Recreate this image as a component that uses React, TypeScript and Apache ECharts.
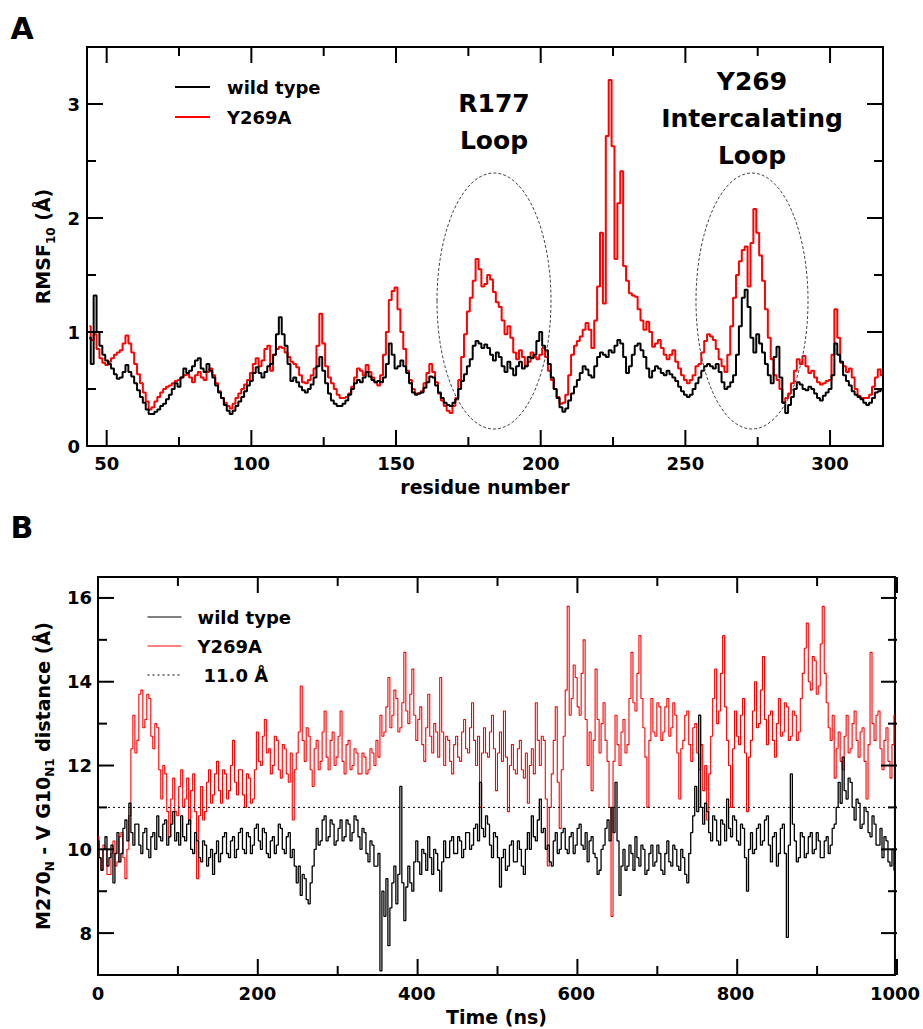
import React, { useEffect, useRef } from "react";
import * as echarts from "echarts";

// ---------- Panel A: RMSF per residue ----------
const residueStart = 44;
const rmsfWildType = [
  0.95, 0.72, 1.32, 1.0, 0.88, 0.8, 0.75, 0.72, 0.68, 0.63,
  0.59, 0.6, 0.65, 0.71, 0.65, 0.61, 0.55, 0.49, 0.43, 0.38,
  0.32, 0.28, 0.28, 0.3, 0.32, 0.35, 0.37, 0.41, 0.45, 0.5,
  0.55, 0.52, 0.6, 0.68, 0.64, 0.66, 0.7, 0.75, 0.77, 0.68,
  0.65, 0.72, 0.66, 0.6, 0.53, 0.47, 0.42, 0.36, 0.31, 0.28,
  0.31, 0.35, 0.39, 0.43, 0.48, 0.53, 0.57, 0.64, 0.69, 0.64,
  0.6, 0.65, 0.7, 0.72, 0.8, 0.98, 1.13, 0.98, 0.88, 0.72,
  0.57, 0.6, 0.56, 0.52, 0.49, 0.47, 0.5, 0.54, 0.6, 0.7,
  0.78, 0.66, 0.55, 0.46, 0.4, 0.37, 0.35, 0.35, 0.37, 0.4,
  0.45, 0.5, 0.55, 0.58, 0.56, 0.6, 0.65, 0.61, 0.58, 0.56,
  0.57, 0.56, 0.6, 0.72, 0.9, 0.8, 0.68, 0.7, 0.75, 0.7,
  0.64, 0.55, 0.47, 0.45, 0.46, 0.47, 0.51, 0.56, 0.61, 0.6,
  0.53, 0.47, 0.42, 0.38, 0.36, 0.35, 0.38, 0.41, 0.5, 0.57,
  0.63, 0.7, 0.76, 0.88, 0.92, 0.9, 0.86, 0.89, 0.86, 0.8,
  0.75, 0.82, 0.78, 0.7, 0.65, 0.74, 0.68, 0.62, 0.7, 0.74,
  0.68, 0.7, 0.78, 0.77, 0.8, 0.92, 1.0, 0.88, 0.84, 0.72,
  0.6, 0.5, 0.42, 0.34, 0.3, 0.33, 0.4, 0.46, 0.52, 0.58,
  0.64, 0.7, 0.67, 0.62, 0.6, 0.7, 0.78, 0.82, 0.8, 0.78,
  0.84, 0.82, 0.88, 0.93, 0.9, 0.78, 0.64, 0.7, 0.8, 0.88,
  0.9, 0.84, 0.78, 0.68, 0.6, 0.66, 0.7, 0.68, 0.64, 0.62,
  0.66, 0.63, 0.6, 0.57, 0.52, 0.48, 0.45, 0.43, 0.45, 0.5,
  0.55, 0.6, 0.66, 0.7, 0.72, 0.7, 0.68, 0.72, 0.65, 0.56,
  0.5, 0.52, 0.56, 0.62, 0.8, 1.05, 1.3, 1.37, 1.22, 0.95,
  0.82, 0.98, 0.9, 0.82, 0.72, 0.62, 0.55, 0.78, 0.87, 0.6,
  0.38, 0.29, 0.36, 0.43, 0.5, 0.56, 0.54, 0.5, 0.49, 0.52,
  0.5, 0.46, 0.42, 0.4, 0.44, 0.47, 0.5, 0.62, 0.9, 0.8,
  0.74, 0.62, 0.57, 0.53, 0.48, 0.45, 0.43, 0.41, 0.38, 0.36,
  0.38, 0.42, 0.47, 0.48, 0.5,
];
const rmsfY269A = [
  1.05, 0.93, 0.98, 0.85, 0.77, 0.73, 0.71, 0.74, 0.77, 0.8,
  0.82, 0.84, 0.9, 0.97, 0.9, 0.82, 0.72, 0.63, 0.55, 0.47,
  0.39, 0.32, 0.34, 0.39, 0.43, 0.47, 0.5, 0.52, 0.53, 0.55,
  0.57, 0.58, 0.6, 0.62, 0.63, 0.6, 0.56, 0.62, 0.65, 0.6,
  0.58, 0.65, 0.68, 0.62, 0.55, 0.48, 0.42, 0.38, 0.35, 0.33,
  0.37, 0.42, 0.46, 0.5, 0.54, 0.58, 0.64, 0.72, 0.77, 0.7,
  0.75, 0.85, 0.88, 0.66, 0.8, 0.85, 0.87, 0.86, 0.82, 0.78,
  0.74, 0.72, 0.69, 0.62, 0.56, 0.55, 0.58, 0.62, 0.68, 0.88,
  1.16, 0.9, 0.7, 0.6, 0.55, 0.5, 0.45, 0.42, 0.42, 0.43,
  0.46, 0.52, 0.6, 0.68, 0.66, 0.62, 0.71, 0.65, 0.6, 0.56,
  0.53, 0.62, 0.8, 1.0, 1.28, 1.36, 1.39, 1.2, 1.0, 0.85,
  0.66, 0.58, 0.5, 0.46, 0.46, 0.48, 0.55, 0.64, 0.72, 0.65,
  0.56, 0.46, 0.4, 0.35, 0.31, 0.29, 0.35, 0.42, 0.58, 0.78,
  0.98, 1.18, 1.3, 1.45, 1.64, 1.55, 1.4, 1.42, 1.5, 1.46,
  1.35, 1.26, 1.22, 1.1, 0.98, 1.05, 0.95, 0.82, 0.76, 0.84,
  0.78, 0.7, 0.74, 0.82, 0.78, 0.76, 0.8, 0.86, 0.78, 0.66,
  0.58, 0.5, 0.43, 0.37, 0.38, 0.45, 0.62, 0.8, 0.88, 0.92,
  0.96, 1.02, 1.08, 1.02, 0.86, 1.1, 1.4, 1.87, 1.25, 2.72,
  3.21, 2.63, 1.64, 2.13, 2.41, 1.58, 1.45, 1.34, 1.32, 1.31,
  1.2, 1.1, 1.02, 1.09, 1.0, 0.87, 0.9, 0.93, 0.86, 0.8,
  0.76, 0.8, 0.84, 0.74, 0.68, 0.62, 0.58, 0.55, 0.58, 0.62,
  0.7, 0.72, 0.82, 0.92, 0.98, 0.96, 0.93, 0.85, 0.76, 0.7,
  0.65, 0.8, 1.05, 1.3, 1.5, 1.62, 1.72, 1.75, 1.4, 1.78,
  2.08, 1.87, 1.67, 1.45, 1.2, 0.95, 0.76, 0.62, 0.58, 0.5,
  0.38, 0.42, 0.46, 0.55, 0.66, 0.76, 0.72, 0.79, 0.7, 0.64,
  0.66, 0.6, 0.56, 0.54, 0.55, 0.57, 0.58, 0.8, 1.2, 0.95,
  0.73, 0.7, 0.65, 0.68, 0.6, 0.5, 0.44, 0.42, 0.42, 0.42,
  0.45, 0.52, 0.6, 0.67, 0.62,
];
const aXRange = [43.2, 318.3];
const aYRange = [0, 3.5];
const aXMajor = [50, 100, 150, 200, 250, 300];
const aXMinor = [75, 125, 175, 225, 275];
const aYMajor = [0, 1, 2, 3];
const aYMinor = [0.5, 1.5, 2.5];

// ---------- Panel B: distance vs time (one value every 2.5 ns) ----------
const timeStep = 2.5;
const distWildType = [
  10.2, 9.8, 9.5, 10.0, 10.3, 9.6, 9.8, 10.1, 9.2, 9.9, 10.4, 9.7, 9.9, 10.5, 10.7, 10.2, 11.1, 10.4, 10.1, 10.6,
  10.6, 10.1, 9.9, 10.4, 10.5, 10.0, 9.8, 10.3, 10.4, 10.0, 10.8, 10.3, 10.2, 10.6, 10.7, 10.1, 10.3, 10.6, 10.9, 10.2,
  10.4, 10.1, 10.8, 10.3, 10.2, 10.6, 10.7, 10.0, 9.9, 10.4, 10.2, 9.8, 9.7, 10.2, 10.1, 9.6, 9.8, 10.0, 9.4, 9.9,
  10.2, 9.7, 9.9, 10.3, 10.4, 9.9, 9.8, 10.2, 10.3, 9.8, 10.0, 10.4, 10.5, 10.0, 9.9, 10.4, 10.3, 9.9, 10.1, 10.5,
  10.6, 10.2, 10.0, 10.5, 10.4, 9.9, 9.8, 10.2, 10.3, 9.9, 10.1, 10.6, 10.5, 10.0, 9.9, 10.3, 10.4, 9.8, 10.0, 9.6,
  9.2, 9.6, 8.9, 9.4, 9.3, 8.8, 8.7, 9.2, 9.6, 10.0, 10.5, 10.1, 10.2, 10.7, 10.8, 10.2, 10.3, 10.7, 10.6, 10.1,
  10.2, 10.5, 10.7, 10.2, 10.3, 10.7, 10.6, 10.2, 10.4, 10.8, 10.7, 10.3, 10.0, 10.5, 10.4, 9.9, 9.7, 10.2, 10.1, 9.6,
  9.6, 9.9, 7.1, 9.0, 8.4, 9.3, 7.7, 8.6, 9.2, 9.6, 8.7, 9.4, 11.5, 9.2, 8.3, 9.1, 9.6, 9.2, 9.0, 9.7,
  10.2, 9.7, 9.4, 10.0, 9.9, 9.5, 10.3, 9.8, 9.4, 10.0, 9.9, 9.5, 9.0, 9.7, 10.2, 9.8, 9.8, 10.2, 10.3, 9.9,
  9.9, 10.3, 10.2, 9.8, 10.0, 10.4, 10.4, 10.0, 10.1, 10.5, 10.6, 10.2, 11.6, 10.5, 10.3, 10.8, 10.6, 10.1, 9.8, 10.4,
  10.3, 9.8, 9.1, 9.8, 10.0, 9.5, 9.6, 10.1, 10.2, 9.7, 9.7, 10.2, 10.0, 9.6, 9.4, 10.0, 10.4, 10.0, 10.8, 10.3,
  10.2, 10.7, 11.2, 10.4, 10.5, 10.0, 10.1, 9.7, 9.6, 10.2, 10.4, 9.9, 10.0, 10.4, 10.5, 10.0, 9.9, 10.3, 10.4, 9.9,
  10.1, 10.5, 10.6, 10.1, 10.0, 10.4, 9.7, 10.2, 10.3, 9.9, 9.8, 9.4, 9.5, 10.0, 10.1, 10.5, 10.7, 10.2, 11.0, 10.4,
  11.6, 10.2, 8.9, 9.6, 10.0, 9.5, 9.6, 10.1, 9.9, 9.5, 10.3, 9.8, 9.6, 10.1, 10.0, 9.4, 9.5, 9.9, 10.1, 9.6,
  9.7, 10.1, 9.9, 9.5, 9.4, 9.9, 10.2, 9.7, 9.6, 10.1, 10.0, 9.6, 9.5, 10.0, 9.8, 9.4, 9.2, 9.9, 10.4, 10.8,
  11.5, 10.9, 13.2, 11.0, 10.6, 11.1, 10.9, 10.4, 10.2, 10.8, 10.7, 10.2, 10.1, 10.7, 10.6, 10.2, 11.2, 10.5, 10.3, 10.8,
  10.7, 10.2, 10.1, 10.6, 10.5, 9.8, 9.0, 10.0, 10.4, 9.9, 10.0, 10.5, 10.6, 10.1, 10.2, 10.7, 10.8, 10.1, 9.7, 10.3,
  10.4, 9.6, 9.9, 10.5, 10.6, 9.9, 7.9, 10.1, 11.8, 10.6, 10.2, 9.7, 9.8, 10.4, 10.3, 9.8, 9.9, 10.3, 10.4, 9.9,
  10.0, 10.4, 10.2, 9.8, 9.8, 10.2, 10.3, 9.9, 10.1, 10.5, 10.6, 11.0, 11.6, 11.1, 12.2, 11.4, 11.2, 11.7, 11.6, 11.0,
  10.7, 11.2, 11.1, 10.5, 10.6, 11.0, 10.9, 10.4, 10.3, 10.8, 10.6, 10.1, 10.1, 10.5, 9.8, 10.3, 10.2, 9.7, 9.6, 10.0,
  9.5,
];
const distY269A = [
  10.3, 9.8, 9.5, 10.1, 10.0, 9.4, 9.4, 9.9, 10.2, 9.6, 9.7, 10.3, 10.4, 9.8, 9.3, 10.0, 10.8, 12.4, 13.2, 12.3,
  12.6, 13.7, 13.8, 12.9, 13.1, 13.7, 13.6, 12.7, 12.4, 13.0, 12.9, 11.9, 11.2, 12.0, 11.8, 10.9, 10.3, 11.2, 11.7, 10.9,
  10.8, 11.5, 11.9, 11.0, 11.2, 11.7, 10.6, 11.4, 11.8, 10.9, 9.3, 10.8, 11.5, 10.7, 10.9, 11.6, 11.9, 11.1, 11.3, 11.8,
  12.1, 11.4, 11.1, 11.9, 11.8, 11.2, 11.4, 12.0, 12.6, 11.6, 11.3, 11.9, 11.9, 11.3, 11.0, 11.8, 11.7, 11.1, 11.2, 11.9,
  12.8, 12.1, 12.0, 12.7, 13.1, 12.3, 12.4, 11.8, 12.0, 12.7, 12.6, 11.9, 11.7, 12.5, 12.4, 11.8, 11.6, 12.3, 10.7, 11.9,
  12.3, 12.8, 13.9, 12.6, 12.1, 12.9, 12.7, 11.9, 11.5, 12.4, 12.6, 11.9, 12.1, 12.8, 13.3, 12.2, 11.9, 12.6, 12.8, 12.0,
  12.2, 12.7, 13.3, 12.1, 11.8, 12.5, 12.6, 11.9, 12.0, 12.4, 12.3, 11.8, 11.8, 12.3, 12.2, 11.8, 11.9, 12.4, 12.3, 12.0,
  12.6, 12.2, 13.2, 12.7, 12.8, 13.4, 14.1, 12.9, 13.2, 13.8, 13.6, 12.8, 12.9, 13.5, 14.7, 13.3, 13.0, 13.7, 14.3, 13.2,
  12.6, 13.1, 13.4, 12.5, 12.1, 12.9, 13.7, 12.7, 12.3, 13.0, 12.8, 12.2, 14.1, 12.8, 12.0, 12.7, 12.6, 12.1, 11.8, 12.5,
  12.7, 12.2, 12.1, 12.8, 13.1, 12.4, 12.3, 12.9, 13.5, 12.6, 12.0, 12.7, 11.0, 12.3, 12.9, 12.3, 12.2, 12.8, 13.2, 12.4,
  11.4, 12.3, 12.8, 12.1, 13.3, 12.2, 10.9, 12.0, 12.5, 11.9, 11.8, 12.4, 12.6, 11.9, 11.7, 12.3, 11.1, 12.0, 12.4, 11.8,
  13.5, 12.6, 12.0, 12.7, 12.6, 11.2, 9.6, 11.0, 11.8, 12.6, 13.4, 11.6, 10.5, 11.9, 12.7, 13.8, 15.8, 13.2, 13.6, 14.4,
  14.1, 13.4, 13.2, 14.2, 15.0, 13.1, 12.0, 12.8, 11.4, 12.6, 14.3, 13.1, 12.3, 13.0, 13.5, 12.6, 12.1, 11.0, 8.4, 12.1,
  13.2, 12.5, 12.0, 12.8, 13.1, 12.3, 12.5, 13.6, 14.7, 13.5, 13.3, 14.2, 15.1, 13.6, 12.9, 12.2, 11.0, 12.6, 13.6, 12.8,
  12.7, 13.5, 13.4, 12.6, 12.8, 13.4, 13.6, 12.7, 12.9, 13.5, 13.2, 12.3, 11.2, 12.4, 12.6, 13.2, 13.3, 12.5, 12.1, 12.9,
  13.0, 12.3, 11.9, 12.5, 11.4, 12.0, 10.7, 11.8, 12.7, 13.6, 14.3, 13.0, 13.3, 14.2, 15.1, 13.4, 12.6, 12.0, 11.0, 12.4,
  13.3, 12.7, 12.5, 13.2, 13.6, 12.3, 10.9, 12.2, 12.6, 13.3, 14.0, 12.9, 13.0, 13.8, 14.6, 13.1, 12.5, 13.2, 13.3, 12.6,
  12.2, 13.0, 13.6, 12.7, 12.8, 13.5, 13.4, 12.6, 12.7, 13.3, 13.2, 12.6, 12.8, 13.6, 14.2, 14.8, 15.4, 14.0, 13.8, 14.6,
  14.5, 13.7, 13.9, 14.9, 15.8, 14.2, 13.5, 12.9, 12.6, 13.2, 11.7, 12.4, 12.8, 12.1, 11.9, 12.7, 13.2, 12.3, 12.4, 13.0,
  13.3, 12.6, 12.2, 12.8, 12.9, 12.1, 11.2, 12.5, 14.7, 13.0, 12.6, 13.2, 13.3, 12.4, 11.9, 12.6, 12.9, 12.1, 11.7, 12.5,
  13.2,
];
const thresholdValue = 11.0;
const bXRange = [0, 1000];
const bYRange = [7, 16.5];
const bXMajor = [0, 200, 400, 600, 800, 1000];
const bXMinor = [100, 300, 500, 700, 900];
const bYMajor = [8, 10, 12, 14, 16];
const bYMinor = [9, 11, 13, 15];

const FONT = "DejaVu Sans";
const MAJOR_LEN = 16;
const MINOR_LEN = 9;
const TICK_W = 2;
const GRIDS = [
  { left: 87, top: 47, width: 796, height: 399 },
  { left: 98, top: 577, width: 799, height: 398 },
];
const RANGES = [
  { x: aXRange, y: aYRange },
  { x: bXRange, y: bYRange },
];

const inList = (list: number[]) => (v: number) =>
  list.some((m) => Math.abs(m - v) < 1e-6) ? String(v) : "";

export default function App() {
  const ref = useRef<HTMLDivElement>(null);
  const tickRef = useRef<HTMLDivElement>(null);

  useEffect(() => {
    if (!ref.current || !tickRef.current) return;
    const chart = echarts.init(ref.current, null, { renderer: "svg" });

    const textBase = {
      color: "#000",
      fontFamily: FONT,
      fontWeight: "bold",
      fontSize: 18,
    };
    const titleBase = { ...textBase, fontSize: 19 };
    const richName = {
      ...titleBase,
      rich: {
        a: { ...titleBase, lineHeight: 27 },
        s: { color: "#000", fontFamily: FONT, fontWeight: "bold", fontSize: 12, verticalAlign: "bottom" },
      },
    };
    const label = (values: number[], margin: number) => ({
      show: true,
      ...textBase,
      margin,
      formatter: inList(values),
    });
    const axisBase = {
      type: "value",
      splitLine: { show: false },
      axisLine: { show: false },
      axisTick: { show: false },
    };

    const option: any = {
      animation: false,
      grid: GRIDS.map((g) => ({ ...g, show: true, borderColor: "#000", borderWidth: 2 })),
      xAxis: [
        {
          ...axisBase,
          gridIndex: 0,
          min: aXRange[0],
          max: aXRange[1],
          axisLabel: label(aXMajor, 8),
          name: "residue number",
          nameLocation: "middle",
          nameGap: 31,
          nameTextStyle: titleBase,
        },
        {
          ...axisBase,
          gridIndex: 1,
          min: bXRange[0],
          max: bXRange[1],
          axisLabel: label(bXMajor, 9),
          name: "Time (ns)",
          nameLocation: "middle",
          nameGap: 32,
          nameTextStyle: titleBase,
        },
      ],
      yAxis: [
        {
          ...axisBase,
          gridIndex: 0,
          min: aYRange[0],
          max: aYRange[1],
          axisLabel: label(aYMajor, 7),
          name: "{a|RMSF}{s|10}{a| (Å)}",
          nameLocation: "middle",
          nameGap: 26,
          nameTextStyle: richName,
        },
        {
          ...axisBase,
          gridIndex: 1,
          min: bYRange[0],
          max: bYRange[1],
          axisLabel: label(bYMajor, 6),
          name: "{a|M270}{s|N}{a| - V G10}{s|N1}{a| distance (Å)}",
          nameLocation: "middle",
          nameGap: 38,
          nameTextStyle: richName,
        },
      ],
      legend: [
        {
          left: 174,
          top: 78,
          orient: "vertical",
          padding: 0,
          itemWidth: 35,
          itemHeight: 14,
          itemGap: 12,
          selectedMode: false,
          data: ["wild type", "Y269A"],
          lineStyle: { width: 2 },
          itemStyle: { opacity: 0, borderWidth: 0 },
          textStyle: { ...textBase, padding: [0, 0, 0, 12] },
        },
        {
          left: 147,
          top: 608,
          orient: "vertical",
          padding: 0,
          itemWidth: 34,
          itemHeight: 14,
          itemGap: 11,
          selectedMode: false,
          data: [
            "wild type",
            "Y269A",
            { name: "11.0 Å", textStyle: { ...textBase, padding: [0, 0, 0, 17] } },
          ],
          lineStyle: { width: 1 },
          itemStyle: { opacity: 0, borderWidth: 0 },
          textStyle: { ...textBase, padding: [0, 0, 0, 11] },
        },
      ],
      series: [
        {
          name: "wild type",
          type: "line",
          xAxisIndex: 0,
          yAxisIndex: 0,
          symbol: "none",
          step: "middle",
          color: "#000000",
          lineStyle: { color: "#000000", width: 2 },
          data: rmsfWildType.map((v, i) => [residueStart + i, v]),
          z: 3,
        },
        {
          name: "Y269A",
          type: "line",
          xAxisIndex: 0,
          yAxisIndex: 0,
          symbol: "none",
          step: "middle",
          color: "#ff0000",
          lineStyle: { color: "#ff0000", width: 2 },
          data: rmsfY269A.map((v, i) => [residueStart + i, v]),
          z: 2,
        },
        {
          name: "wild type",
          type: "line",
          xAxisIndex: 1,
          yAxisIndex: 1,
          symbol: "none",
          step: "middle",
          color: "#000000",
          lineStyle: { color: "#000000", width: 1.3 },
          data: distWildType.map((v, i) => [i * timeStep, v]),
          z: 3,
        },
        {
          name: "Y269A",
          type: "line",
          xAxisIndex: 1,
          yAxisIndex: 1,
          symbol: "none",
          step: "middle",
          color: "#ff0000",
          lineStyle: { color: "#ff0000", width: 1.1 },
          data: distY269A.map((v, i) => [i * timeStep, v]),
          z: 2,
        },
        {
          name: "11.0 Å",
          type: "line",
          xAxisIndex: 1,
          yAxisIndex: 1,
          symbol: "none",
          color: "#000000",
          lineStyle: { color: "#000000", width: 1, type: [2, 3] },
          data: bXRange.map((t) => [t, thresholdValue]),
          z: 4,
        },
      ],
      graphic: {
        elements: [
          {
            type: "text",
            x: 22,
            y: 28,
            style: { text: "A", fill: "#000", fontFamily: FONT, fontWeight: "bold", fontSize: 30, align: "center", verticalAlign: "middle" },
          },
          {
            type: "text",
            x: 22,
            y: 527,
            style: { text: "B", fill: "#000", fontFamily: FONT, fontWeight: "bold", fontSize: 30, align: "center", verticalAlign: "middle" },
          },
          {
            type: "text",
            x: 494,
            y: 121.5,
            style: { text: "R177\nLoop", fill: "#000", fontFamily: FONT, fontWeight: "bold", fontSize: 25, lineHeight: 37, align: "center", verticalAlign: "middle" },
          },
          {
            type: "text",
            x: 752,
            y: 118.3,
            style: { text: "Y269\nIntercalating\nLoop", fill: "#000", fontFamily: FONT, fontWeight: "bold", fontSize: 25, lineHeight: 37, align: "center", verticalAlign: "middle" },
          },
          {
            type: "ellipse",
            shape: { cx: 494, cy: 301, rx: 57, ry: 128 },
            style: { fill: "none", stroke: "#444", lineWidth: 1, lineDash: [3, 2] },
            z: 10,
          },
          {
            type: "ellipse",
            shape: { cx: 752, cy: 301, rx: 56, ry: 128 },
            style: { fill: "none", stroke: "#444", lineWidth: 1, lineDash: [3, 2] },
            z: 10,
          },
        ],
      },
    };
    chart.setOption(option);

    // ---- Tick layer: a second, transparent ECharts instance with the same grids and axes,
    // whose inward ticks are placed through its own scales (convertToPixel).
    const tickChart = echarts.init(tickRef.current, null, { renderer: "svg" });
    const plainAxis = {
      type: "value",
      splitLine: { show: false },
      axisTick: { show: false },
      axisLabel: { show: false },
      axisLine: { show: false },
    };
    tickChart.setOption({
      animation: false,
      grid: GRIDS.map((g) => ({ ...g })),
      xAxis: RANGES.map((r, i) => ({ ...plainAxis, gridIndex: i, min: r.x[0], max: r.x[1] })),
      yAxis: RANGES.map((r, i) => ({ ...plainAxis, gridIndex: i, min: r.y[0], max: r.y[1] })),
      series: [],
    });

    const toPx = (gi: number, pt: number[]): number[] => {
      try {
        const p = tickChart.convertToPixel({ gridIndex: gi } as any, pt) as number[];
        if (p && isFinite(p[0]) && isFinite(p[1])) return p;
      } catch (e) {
        /* fall back below */
      }
      const g = GRIDS[gi];
      const r = RANGES[gi];
      return [
        g.left + ((pt[0] - r.x[0]) / (r.x[1] - r.x[0])) * g.width,
        g.top + g.height - ((pt[1] - r.y[0]) / (r.y[1] - r.y[0])) * g.height,
      ];
    };
    const ticks: any[] = [];
    const bar = (x: number, y: number, w: number, h: number) => ({
      type: "rect",
      z: 100,
      shape: { x, y, width: w, height: h },
      style: { fill: "#000" },
    });
    const addX = (gi: number, vals: number[], len: number) => {
      const yr = RANGES[gi].y;
      vals.forEach((v) => {
        const b = toPx(gi, [v, yr[0]]);
        const t = toPx(gi, [v, yr[1]]);
        ticks.push(bar(b[0] - TICK_W / 2, b[1] - len, TICK_W, len));
        ticks.push(bar(t[0] - TICK_W / 2, t[1], TICK_W, len));
      });
    };
    const addY = (gi: number, vals: number[], len: number) => {
      const xr = RANGES[gi].x;
      vals.forEach((v) => {
        const l = toPx(gi, [xr[0], v]);
        const r = toPx(gi, [xr[1], v]);
        ticks.push(bar(l[0], l[1] - TICK_W / 2, len, TICK_W));
        ticks.push(bar(r[0] - len, r[1] - TICK_W / 2, len, TICK_W));
      });
    };
    addX(0, aXMajor, MAJOR_LEN);
    addX(0, aXMinor, MINOR_LEN);
    addY(0, aYMajor, MAJOR_LEN);
    addY(0, aYMinor, MINOR_LEN);
    addX(1, bXMajor, MAJOR_LEN);
    addX(1, bXMinor, MINOR_LEN);
    addY(1, bYMajor, MAJOR_LEN);
    addY(1, bYMinor, MINOR_LEN);
    tickChart.setOption({ graphic: { elements: ticks } });

    return () => {
      tickChart.dispose();
      chart.dispose();
    };
  }, []);

  return (
    <div style={{ position: "absolute", left: 0, top: 0, width: 923, height: 1029, background: "#fff" }}>
      <div ref={ref} style={{ position: "absolute", left: 0, top: 0, width: 923, height: 1029 }} />
      <div
        ref={tickRef}
        style={{ position: "absolute", left: 0, top: 0, width: 923, height: 1029, pointerEvents: "none" }}
      />
    </div>
  );
}
